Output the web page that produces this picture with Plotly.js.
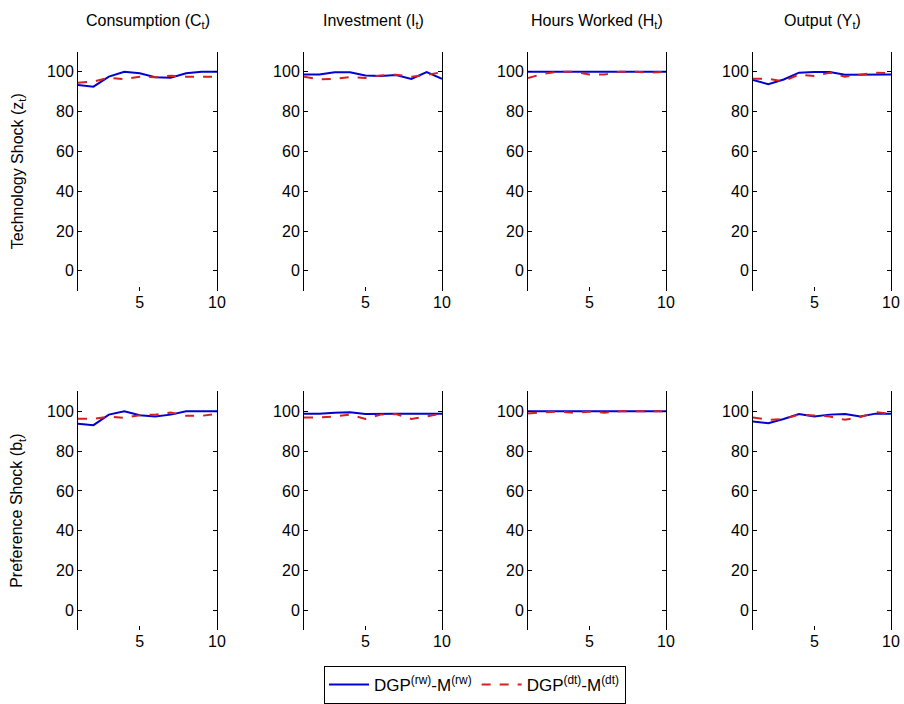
<!DOCTYPE html>
<html>
<head>
<meta charset="utf-8">
<script src="https://cdn.plot.ly/plotly-3.0.1.min.js"></script>
<style>
  html, body { margin: 0; padding: 0; background: #fff; }
  #chart { width: 904px; height: 704px; }
</style>
</head>
<body>
<div id="chart"></div>
<script>
// Horizon (quarters) shared by all panels
const horizon = [1, 2, 3, 4, 5, 6, 7, 8, 9, 10];

// Column and row labels
const variableTitles = [
  'Consumption (C<sub>t</sub>)',
  'Investment (I<sub>t</sub>)',
  'Hours Worked (H<sub>t</sub>)',
  'Output (Y<sub>t</sub>)'
];
const shockTitles = [
  'Technology Shock (z<sub>t</sub>)',
  'Preference Shock (b<sub>t</sub>)'
];
const seriesNames = [
  'DGP<sup>(rw)</sup>-M<sup>(rw)</sup>',
  'DGP<sup>(dt)</sup>-M<sup>(dt)</sup>'
];

// Technology shock row: random-walk model (rw) and deterministic-trend model (dt)
const techConsRw  = [93.3, 92.5, 97.5, 100, 99.2, 97.2, 97.0, 99.2, 100, 100];
const techConsDt  = [94.5, 95.0, 97.0, 96.2, 97.5, 97.2, 98.0, 97.5, 97.5, 97.5];
const techInvRw   = [98.6, 98.6, 99.7, 99.7, 98.1, 97.8, 98.3, 96.4, 99.8, 96.4];
const techInvDt   = [97.5, 96.1, 96.4, 97.3, 96.8, 98.1, 98.5, 97.5, 98.3, 99.8];
const techHoursRw = [100, 100, 100, 100, 100, 100, 100, 100, 100, 100];
const techHoursDt = [96.8, 99.0, 100, 100, 98.6, 98.6, 100, 100, 99.6, 100];
const techOutRw   = [95.8, 93.7, 96.1, 99.5, 99.8, 99.8, 98.5, 98.6, 98.6, 98.6];
const techOutDt   = [96.4, 96.4, 95.2, 98.6, 97.8, 99.5, 97.5, 98.6, 99.5, 99.2];

// Preference shock row
const prefConsRw  = [93.7, 93.0, 98.3, 100, 98.0, 97.3, 98.3, 100, 100, 100];
const prefConsDt  = [96.2, 96.2, 97.3, 96.7, 98.0, 98.3, 99.3, 97.7, 97.7, 98.7];
const prefInvRw   = [98.8, 98.8, 99.3, 99.5, 98.6, 98.8, 98.8, 98.8, 98.8, 98.8];
const prefInvDt   = [96.9, 96.9, 97.4, 98.3, 96.1, 98.3, 98.6, 96.1, 97.4, 98.8];
const prefHoursRw = [100, 100, 100, 100, 100, 100, 100, 100, 100, 100];
const prefHoursDt = [98.8, 99.5, 99.8, 99.2, 99.8, 99.3, 100, 100, 100, 100];
const prefOutRw   = [94.9, 94.0, 96.1, 98.6, 97.4, 98.3, 98.6, 97.4, 98.8, 98.8];
const prefOutDt   = [96.9, 95.7, 96.1, 98.3, 97.9, 97.4, 95.7, 97.1, 99.5, 98.8];

const yTickVals = [0, 20, 40, 60, 80, 100];
const xTickVals = [5, 10];

const panels = [
  [[techConsRw, techConsDt], [techInvRw, techInvDt], [techHoursRw, techHoursDt], [techOutRw, techOutDt]],
  [[prefConsRw, prefConsDt], [prefInvRw, prefInvDt], [prefHoursRw, prefHoursDt], [prefOutRw, prefOutDt]]
];

const W = 904, H = 704;
const colPx = [[78, 217], [304, 442], [528, 666], [753, 891]];
const rowPx = [[52, 292], [393, 633]];

const blue = '#0000d0';
const red = '#d42020';
const tickFont = { family: 'Liberation Sans, Arial, sans-serif', size: 16, color: '#000' };
const titleFont = { family: 'Liberation Sans, Arial, sans-serif', size: 16, color: '#000' };

const traces = [];
const layout = {
  width: W, height: H,
  margin: { l: 0, r: 0, t: 0, b: 0 },
  paper_bgcolor: '#fff',
  plot_bgcolor: '#fff',
  showlegend: true,
  legend: {
    orientation: 'h',
    x: 475 / W, xanchor: 'center',
    y: 1 - 688 / H, yanchor: 'middle',
    bordercolor: '#000', borderwidth: 1,
    bgcolor: '#fff',
    font: { family: 'Liberation Sans, Arial, sans-serif', size: 17, color: '#000' },
    itemwidth: 40,
    tracegroupgap: 0
  },
  annotations: []
};

for (let r = 0; r < 2; r++) {
  for (let c = 0; c < 4; c++) {
    const idx = r * 4 + c + 1;
    const xa = idx === 1 ? 'x' : 'x' + idx;
    const ya = idx === 1 ? 'y' : 'y' + idx;
    const [rw, dt] = panels[r][c];
    traces.push({
      x: horizon, y: rw, xaxis: xa, yaxis: ya, type: 'scatter', mode: 'lines',
      name: seriesNames[0], legendgroup: 'rw', showlegend: idx === 1,
      line: { color: blue, width: 2 }
    });
    traces.push({
      x: horizon, y: dt, xaxis: xa, yaxis: ya, type: 'scatter', mode: 'lines',
      name: seriesNames[1], legendgroup: 'dt', showlegend: idx === 1,
      line: { color: red, width: 2, dash: 'dash' }
    });

    layout['xaxis' + (idx === 1 ? '' : idx)] = {
      domain: [colPx[c][0] / W, colPx[c][1] / W],
      anchor: ya,
      range: [1, 10],
      tickvals: xTickVals,
      ticks: 'inside', ticklen: 4, tickcolor: '#000',
      showline: false, showgrid: false, zeroline: false,
      tickfont: tickFont
    };
    layout['yaxis' + (idx === 1 ? '' : idx)] = {
      domain: [1 - rowPx[r][1] / H, 1 - rowPx[r][0] / H],
      anchor: xa,
      range: [-10, 110],
      tickvals: yTickVals,
      ticks: 'inside', ticklen: 4, tickcolor: '#000',
      showline: true, linecolor: '#000', linewidth: 1, mirror: 'ticks',
      showgrid: false, zeroline: false,
      tickfont: tickFont
    };

    if (r === 0) {
      layout.annotations.push({
        xref: 'paper', yref: 'paper',
        x: (colPx[c][0] + colPx[c][1]) / 2 / W, y: 1 - 22 / H,
        xanchor: 'center', yanchor: 'middle',
        text: variableTitles[c], showarrow: false, font: titleFont
      });
    }
  }
  layout.annotations.push({
    xref: 'paper', yref: 'paper',
    x: 18 / W, y: 1 - (rowPx[r][0] + rowPx[r][1]) / 2 / H,
    xanchor: 'center', yanchor: 'middle', textangle: -90,
    text: shockTitles[r], showarrow: false, font: titleFont
  });
}

Plotly.newPlot('chart', traces, layout, { staticPlot: true, displayModeBar: false });
</script>
</body>
</html>
